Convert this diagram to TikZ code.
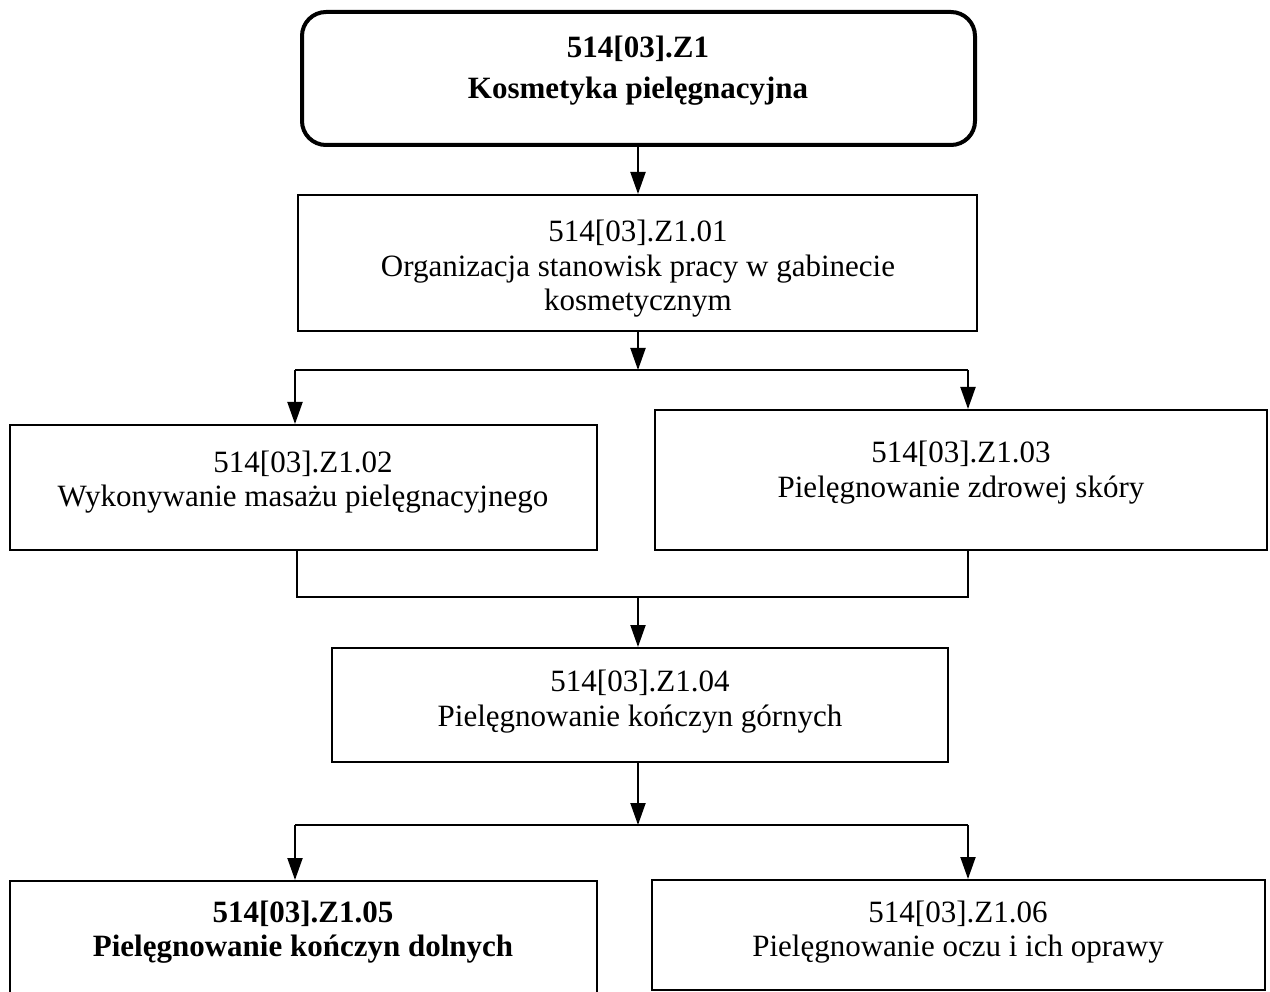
\documentclass[tikz,border=0pt]{standalone}
\usepackage{fontspec}
\setmainfont{Liberation Serif}
\usetikzlibrary{arrows.meta}
\begin{document}
\begin{tikzpicture}[x=1pt,y=-1pt,
  box/.style={draw,line width=2pt,rectangle,inner sep=0pt},
  topbox/.style={draw,line width=4pt,rectangle,rounded corners=24pt,inner sep=0pt},
  txt/.style={align=center,font=\fontsize{31}{34.5}\selectfont,inner sep=0pt},
  conn/.style={line width=2pt},
  arr/.style={line width=2pt,-{Triangle[length=22pt,width=15pt]}}]
\useasboundingbox (0,0) rectangle (1270,992);
% boxes
\node[topbox,minimum width=673pt,minimum height=133pt] (b1) at (638.5,78.5) {};
\node[box,minimum width=679pt,minimum height=136pt] (b2) at (637.5,263) {};
\node[box,minimum width=587pt,minimum height=125pt] (b3) at (303.5,487.5) {};
\node[box,minimum width=612pt,minimum height=140pt] (b4) at (961,480) {};
\node[box,minimum width=616pt,minimum height=114pt] (b5) at (640,705) {};
\node[box,minimum width=587pt,minimum height=112pt] (b6) at (303.5,937) {};
\node[box,minimum width=613pt,minimum height=110pt] (b7) at (958.5,935) {};
% texts
\node[txt,font=\fontsize{31}{41}\selectfont\bfseries] (t1) at (638,70.5) {514[03].Z1\\Kosmetyka pielęgnacyjna};
\node[txt] (t2) at (638,269) {514[03].Z1.01\\Organizacja stanowisk pracy w gabinecie\\kosmetycznym};
\node[txt] (t3) at (303,482) {514[03].Z1.02\\Wykonywanie masażu pielęgnacyjnego};
\node[txt] (t4) at (961,472.5) {514[03].Z1.03\\Pielęgnowanie zdrowej skóry};
\node[txt] (t5) at (640,701.5) {514[03].Z1.04\\Pielęgnowanie kończyn górnych};
\node[txt,font=\fontsize{31}{34.5}\selectfont\bfseries] (t6) at (303,932) {514[03].Z1.05\\Pielęgnowanie kończyn dolnych};
\node[txt] (t7) at (958,932) {514[03].Z1.06\\Pielęgnowanie oczu i ich oprawy};
% junction coordinates
\coordinate (j1) at (638,370);
\coordinate (j1l) at (295,370);
\coordinate (j1r) at (968,370);
\coordinate (m1) at (638,597);
\coordinate (m1l) at (297,597);
\coordinate (m1r) at (968,597);
\coordinate (j2) at (638,825);
\coordinate (j2l) at (295,825);
\coordinate (j2r) at (968,825);
% connectors
\draw[arr] (b1.south -| j1) -- (b2.north -| j1);
\draw[arr] (b2.south -| j1) -- (j1);
\draw[conn] (j1l) -- (j1r);
\draw[arr] (j1l) -- (j1l |- b3.north);
\draw[arr] (j1r) -- (j1r |- b4.north);
\draw[conn] (m1l |- b3.south) -- (m1l) -- (m1r) -- (m1r |- b4.south);
\draw[arr] (m1) -- (m1 |- b5.north);
\draw[arr] (j2 |- b5.south) -- (j2);
\draw[conn] (j2l) -- (j2r);
\draw[arr] (j2l) -- (j2l |- b6.north);
\draw[arr] (j2r) -- (j2r |- b7.north);
\end{tikzpicture}
\end{document}
